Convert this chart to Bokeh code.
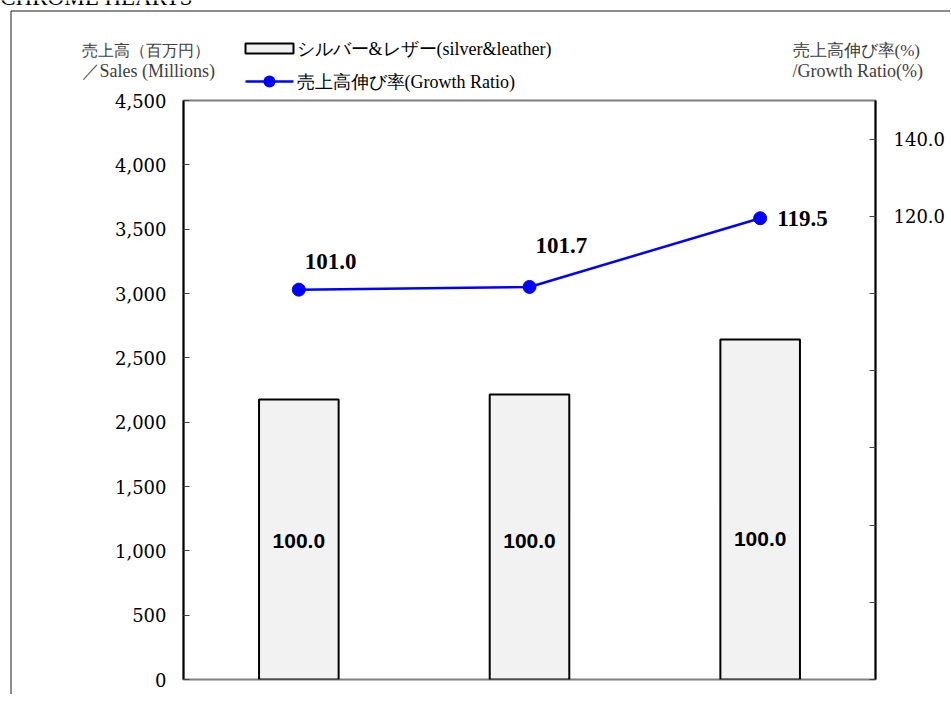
from bokeh.plotting import figure
from bokeh.layouts import column
from bokeh.models import (Range1d, FactorRange, LinearAxis, FixedTicker, NumeralTickFormatter,
                          ColumnDataSource, Label, BoxAnnotation)
from bokeh.core.properties import value
from bokeh.embed import file_html
from bokeh.resources import INLINE

# ---------------- data ----------------
periods = ["第1期", "第2期", "第3期"]
sales = [2176, 2215, 2642]                 # 売上高 (百万円)
growth = [101.0, 101.7, 119.5]             # 売上高伸び率 (%)
growth_labels = ["101.0", "101.7", "119.5"]
share_labels = ["100.0", "100.0", "100.0"]
left_ticks = [0, 500, 1000, 1500, 2000, 2500, 3000, 3500, 4000, 4500]
right_major = [120, 140]
right_minor = [0, 20, 40, 60, 80, 100]

# label placement (styling only)
share_label_y = [1080, 1080, 1095]
growth_dx = [6, 6, 17]
growth_dy = [-28, -41, 0]

SERIF = "Liberation Serif"
GRAY = "#404040"

W, H = 950, 694
FL, FR, FT, FB = 183, 875, 100, 679   # frame in window px

p = figure(width=W, height=H, output_backend="svg", toolbar_location=None,
           x_range=FactorRange(*periods), y_range=Range1d(0, 4500),
           x_axis_location=None, title=None,
           min_border_left=FL, min_border_right=W - FR,
           min_border_top=FT, min_border_bottom=H - FB)
p.extra_y_ranges = {"right": Range1d(0, 150)}
p.xgrid.visible = False
p.ygrid.visible = False
p.background_fill_color = "white"
p.border_fill_color = "white"
p.outline_line_color = "#808080"
p.outline_line_width = 2

# left axis
ya = p.yaxis[0]
ya.ticker = FixedTicker(ticks=left_ticks)
ya.formatter = NumeralTickFormatter(format="0,0")
ya.axis_line_color = "black"
ya.axis_line_width = 2
ya.major_tick_in = 6
ya.major_tick_out = 0
ya.major_tick_line_color = "#444444"
ya.minor_tick_line_color = None
ya.major_label_standoff = 17
ya.major_label_text_font = "DejaVu Serif"
ya.major_label_text_font_size = "18px"
ya.major_label_text_color = "black"

# right axis
ra = LinearAxis(y_range_name="right",
                ticker=FixedTicker(ticks=right_major, minor_ticks=right_minor),
                formatter=NumeralTickFormatter(format="0.0"))
ra.axis_line_color = "black"
ra.axis_line_width = 2
ra.major_tick_in = 6
ra.major_tick_out = 0
ra.minor_tick_in = 6
ra.minor_tick_out = 0
ra.major_tick_line_color = "#444444"
ra.minor_tick_line_color = "#444444"
ra.major_label_standoff = 18
ra.major_label_text_font = "DejaVu Serif"
ra.major_label_text_font_size = "18px"
ra.major_label_text_color = "black"
p.add_layout(ra, "right")

# bars
bsrc = ColumnDataSource(dict(x=periods, top=sales, ly=share_label_y, txt=share_labels))
p.vbar(x="x", top="top", width=0.345, source=bsrc,
       fill_color="#f2f2f2", line_color="black", line_width=2)
p.text(x="x", y="ly", text="txt", source=bsrc, text_align="center", text_baseline="middle",
       text_font=value("Liberation Sans"), text_font_style="bold",
       text_font_size="21px", text_color="black")

# growth line
lsrc = ColumnDataSource(dict(x=periods, y=growth, txt=growth_labels, dx=growth_dx, dy=growth_dy))
p.line(x="x", y="y", source=lsrc, y_range_name="right", line_color="#0000ff", line_width=2.5)
p.scatter(x="x", y="y", source=lsrc, y_range_name="right", size=13,
          fill_color="#0000ff", line_color="#0000ff")
p.text(x="x", y="y", text="txt", source=lsrc, y_range_name="right",
       x_offset="dx", y_offset="dy", text_align="left", text_baseline="middle",
       text_font=value("Liberation Serif"), text_font_style="bold",
       text_font_size="23px", text_color="black")

# ---------- overlay canvas for the texts and legend outside the plot frame ----------
q = figure(width=W, height=H, output_backend="svg", toolbar_location=None, title=None,
           x_axis_location=None, y_axis_location=None, min_border=0,
           x_range=Range1d(0, W), y_range=Range1d(0, H))
q.xgrid.visible = False
q.ygrid.visible = False
q.outline_line_color = None
q.background_fill_alpha = 0
q.border_fill_alpha = 0
q.styles = {"margin-top": f"-{H}px"}
for fig in (p, q):
    if "frame_align" in fig.properties():
        fig.frame_align = False


def lab(x, y, text, size="18px", color=GRAY, align="left", baseline="middle", font=SERIF):
    q.add_layout(Label(x=x, y=H - y, x_units="screen", y_units="screen", text=text,
                       text_font=font, text_font_size=size, text_color=color,
                       text_align=align, text_baseline=baseline))


def box(l, r, t, b, **kw):
    q.add_layout(BoxAnnotation(left=l, right=r, top=H - t, bottom=H - b,
                               left_units="screen", right_units="screen",
                               top_units="screen", bottom_units="screen",
                               line_alpha=1, **kw))


# outer chart border
box(10.5, W + 20, 10.5, H + 20, fill_alpha=0, line_color="#1a1a1a", line_width=1)

# cut-off title at top
lab(192, 9, "CHROME HEARTS", size="23px", color="black", align="right",
    baseline="bottom", font="Liberation Serif")

# axis titles
lab(81, 50, "売上高（百万円）", size="16px")
lab(81, 70, "／Sales (Millions)")
lab(792, 50, "売上高伸び率(%)", size="17px")
lab(792, 70, "/Growth Ratio(%)")

# legend swatches and texts
box(245, 293, 43, 53, fill_color="#f0f0f0", fill_alpha=1, line_color="black", line_width=2)
box(245, 293, 79.75, 82.25, fill_color="#0000ff", fill_alpha=1, line_color=None)
box(263, 275, 75, 87, border_radius=6, fill_color="#0000ff", fill_alpha=1, line_color=None)
lab(296, 48, "シルバー&レザー(silver&leather)", color="black")
lab(296, 81, "売上高伸び率(Growth Ratio)", color="black")

layout = column(p, q, spacing=0)
open("out.html", "w").write(file_html(layout, INLINE))
